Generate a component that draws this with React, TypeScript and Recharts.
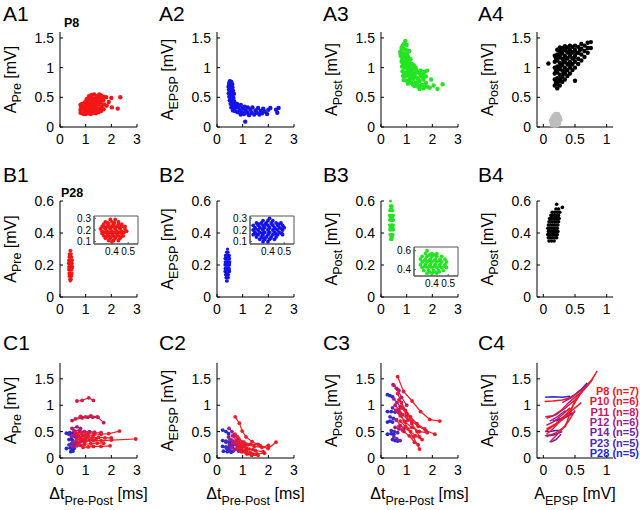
import React from "react";
import { ScatterChart, Scatter, XAxis, YAxis, ReferenceArea } from "recharts";

const FONT = '"Liberation Sans", Arial, Helvetica, sans-serif';

type Pt = [number, number];
type Trace = { g: number; pts: Pt[] };

const RED = "#f21616";
const BLUE = "#1414ea";
const GREEN = "#24e424";
const BLACK = "#000000";
const GREY = "#bdbdbd";

// ages pooled in row C
const ageLabels = ["P8", "P10", "P11", "P12", "P14", "P23", "P28"];
const ageCounts = [7, 6, 8, 6, 5, 5, 5];
const ageColors = ["#f01a22", "#dc1a40", "#c01a66", "#9c1e8c", "#7422a8", "#4c26c2", "#2428d8"];

// ticks
const dtTicks = [0, 1, 2, 3];
const epspTicks = [0, 0.5, 1];
const ampTicks = [0, 0.5, 1, 1.5];
const ampTicksB = [0, 0.2, 0.4, 0.6];
const insetXTicks = [0.4, 0.5];
const insetYTicks = [0.1, 0.2, 0.3];
const insetYTicksPost = [0.4, 0.6];

// ---- row A (P8): dt vs amplitude
const a1Pre: Pt[] = [
  [0.8, 0.24], [0.8, 0.29], [0.82, 0.34], [0.8, 0.37], [0.87, 0.23], [0.88, 0.31], [0.86, 0.39],
  [0.93, 0.22], [0.95, 0.27], [0.92, 0.34], [0.96, 0.41], [1.0, 0.22], [1.02, 0.28], [1.0, 0.33],
  [1.03, 0.38], [1.0, 0.43], [1.04, 0.47], [1.1, 0.23], [1.12, 0.29], [1.08, 0.35], [1.11, 0.41],
  [1.1, 0.47], [1.13, 0.52], [1.2, 0.22], [1.18, 0.26], [1.21, 0.31], [1.19, 0.37], [1.22, 0.43],
  [1.2, 0.49], [1.23, 0.54], [1.3, 0.24], [1.32, 0.3], [1.29, 0.36], [1.31, 0.42], [1.3, 0.48],
  [1.33, 0.55], [1.4, 0.23], [1.42, 0.28], [1.39, 0.34], [1.41, 0.4], [1.4, 0.46], [1.43, 0.52],
  [1.5, 0.25], [1.52, 0.31], [1.49, 0.38], [1.51, 0.44], [1.5, 0.5], [1.53, 0.55], [1.6, 0.27],
  [1.62, 0.34], [1.59, 0.41], [1.61, 0.47], [1.6, 0.53], [1.7, 0.3], [1.72, 0.38], [1.69, 0.45],
  [1.7, 0.51], [1.82, 0.36], [1.8, 0.5], [1.9, 0.42], [2.0, 0.49], [2.02, 0.33], [2.25, 0.31], [2.35, 0.5],
];

const a2Epsp: Pt[] = [
  [0.5, 0.77], [0.56, 0.76], [0.47, 0.73], [0.59, 0.72], [0.45, 0.68], [0.52, 0.69], [0.6, 0.67],
  [0.47, 0.63], [0.55, 0.62], [0.62, 0.61], [0.46, 0.57], [0.52, 0.57], [0.6, 0.55], [0.66, 0.56],
  [0.48, 0.51], [0.56, 0.5], [0.64, 0.49], [0.5, 0.45], [0.58, 0.44], [0.67, 0.43], [0.53, 0.39],
  [0.61, 0.38], [0.7, 0.37], [0.78, 0.39], [0.56, 0.33], [0.65, 0.32], [0.74, 0.33], [0.62, 0.28],
  [0.7, 0.27], [0.84, 0.34], [0.88, 0.29], [0.93, 0.37], [0.97, 0.25], [1.0, 0.31], [1.05, 0.22],
  [1.08, 0.34], [1.12, 0.28], [1.18, 0.24], [1.2, 0.33], [1.25, 0.2], [1.3, 0.29], [1.35, 0.24],
  [1.38, 0.33], [1.45, 0.21], [1.5, 0.28], [1.55, 0.24], [1.6, 0.32], [1.65, 0.21], [1.7, 0.27],
  [1.76, 0.23], [1.8, 0.31], [1.86, 0.26], [1.95, 0.22], [2.0, 0.29], [2.08, 0.32], [2.3, 0.29],
  [2.4, 0.32], [2.35, 0.24], [1.1, 0.09], [0.8, 0.25], [0.92, 0.21],
];

const a3Post: Pt[] = [
  [0.95, 1.45], [0.9, 1.4], [1.0, 1.38], [0.8, 1.33], [0.88, 1.32], [0.97, 1.3], [0.75, 1.27],
  [0.85, 1.25], [0.93, 1.22], [1.02, 1.24], [1.1, 1.28], [0.78, 1.19], [0.88, 1.17], [0.98, 1.15],
  [1.06, 1.18], [1.0, 1.2], [0.8, 1.1], [0.9, 1.09], [1.0, 1.07], [1.1, 1.1], [0.82, 1.02],
  [0.92, 1.0], [1.02, 0.99], [1.12, 1.03], [1.2, 1.06], [0.84, 0.94], [0.95, 0.92], [1.05, 0.93],
  [1.15, 0.95], [1.25, 0.98], [1.35, 1.0], [0.86, 0.86], [0.97, 0.85], [1.08, 0.87], [1.2, 0.88],
  [1.32, 0.9], [1.45, 0.92], [1.55, 0.95], [1.7, 0.93], [1.8, 0.95], [0.88, 0.79], [1.0, 0.78],
  [1.12, 0.8], [1.25, 0.81], [1.4, 0.83], [1.55, 0.86], [1.65, 0.9], [1.75, 0.85], [1.05, 0.73],
  [1.2, 0.74], [1.35, 0.75], [1.5, 0.77], [1.65, 0.8], [1.3, 0.69], [1.45, 0.68], [1.6, 0.71],
  [1.75, 0.74], [1.5, 0.64], [1.65, 0.65], [1.8, 0.68], [1.95, 0.8], [1.9, 0.66], [2.05, 0.7],
  [2.2, 0.64], [2.4, 0.72], [0.84, 1.37], [0.76, 1.22], [0.83, 1.14], [0.93, 1.13], [1.04, 1.12],
  [1.15, 1.14], [0.87, 1.05], [0.97, 1.03], [1.07, 1.04], [1.17, 1.0], [1.28, 1.04], [0.9, 0.9],
  [1.0, 0.89], [1.1, 0.91], [1.22, 0.93], [1.38, 0.95], [1.5, 0.9], [1.62, 0.84], [1.15, 0.84],
  [1.3, 0.86], [1.45, 0.8], [1.1, 0.76], [1.25, 0.71], [1.4, 0.72], [1.55, 0.7], [1.7, 0.68],
];

// A4: A_EPSP vs A_Post, black = responses, grey = failures
const a4Post: Pt[] = [
  [0.18, 0.7], [0.18, 0.8], [0.18, 0.9], [0.18, 1.0], [0.18, 1.1], [0.18, 1.2],
  [0.22, 0.65], [0.22, 0.72], [0.22, 0.82], [0.22, 0.92], [0.22, 1.02], [0.22, 1.12], [0.22, 1.22], [0.22, 1.3],
  [0.26, 0.7], [0.26, 0.78], [0.26, 0.88], [0.26, 0.98], [0.26, 1.08], [0.26, 1.18], [0.26, 1.28], [0.26, 1.34],
  [0.3, 0.76], [0.3, 0.85], [0.3, 0.95], [0.3, 1.05], [0.3, 1.15], [0.3, 1.25], [0.3, 1.33],
  [0.34, 0.8], [0.34, 0.9], [0.34, 1.0], [0.34, 1.1], [0.34, 1.2], [0.34, 1.3], [0.34, 1.36],
  [0.38, 0.86], [0.38, 0.96], [0.38, 1.06], [0.38, 1.16], [0.38, 1.26], [0.38, 1.34],
  [0.42, 0.9], [0.42, 1.0], [0.42, 1.1], [0.42, 1.2], [0.42, 1.3], [0.42, 1.37],
  [0.46, 0.96], [0.46, 1.06], [0.46, 1.16], [0.46, 1.26], [0.46, 1.35],
  [0.5, 1.0], [0.5, 1.1], [0.5, 1.2], [0.5, 1.3], [0.5, 1.37],
  [0.55, 1.06], [0.55, 1.15], [0.55, 1.25], [0.55, 1.35],
  [0.6, 1.12], [0.6, 1.22], [0.6, 1.32], [0.6, 1.4],
  [0.65, 1.18], [0.65, 1.28], [0.65, 1.37], [0.7, 1.25], [0.7, 1.33], [0.7, 1.42],
  [0.75, 1.33], [0.75, 1.43], [0.08, 1.07], [0.5, 0.78],
  [0.2, 0.75], [0.2, 0.95], [0.2, 1.15], [0.24, 0.77], [0.24, 0.97], [0.24, 1.17], [0.28, 0.83],
  [0.28, 1.03], [0.28, 1.23], [0.32, 0.9], [0.32, 1.1], [0.32, 1.3], [0.36, 0.95], [0.36, 1.15],
  [0.4, 1.05], [0.4, 1.25], [0.44, 1.05], [0.44, 1.25], [0.48, 1.15], [0.52, 1.25], [0.58, 1.3],
];

const a4Fail: Pt[] = [
  [0.14, 0.03], [0.18, 0.02], [0.22, 0.03], [0.13, 0.07], [0.17, 0.06], [0.21, 0.07], [0.25, 0.06],
  [0.12, 0.11], [0.16, 0.1], [0.2, 0.11], [0.24, 0.1], [0.27, 0.12], [0.14, 0.15], [0.18, 0.14],
  [0.22, 0.15], [0.26, 0.16], [0.16, 0.19], [0.2, 0.18], [0.24, 0.2], [0.19, 0.22], [0.23, 0.22],
];

// ---- row B (P28)
const b1Pre: Pt[] = [
  [0.39, 0.29], [0.42, 0.29], [0.36, 0.27], [0.4, 0.27], [0.44, 0.27], [0.35, 0.25], [0.38, 0.25],
  [0.41, 0.25], [0.44, 0.25], [0.46, 0.25], [0.34, 0.23], [0.37, 0.23], [0.4, 0.23], [0.43, 0.23],
  [0.46, 0.23], [0.48, 0.23], [0.33, 0.21], [0.36, 0.21], [0.39, 0.21], [0.42, 0.21], [0.45, 0.21],
  [0.48, 0.21], [0.34, 0.19], [0.37, 0.19], [0.4, 0.19], [0.43, 0.19], [0.46, 0.19], [0.49, 0.19],
  [0.34, 0.17], [0.37, 0.17], [0.4, 0.17], [0.43, 0.17], [0.46, 0.17], [0.35, 0.15], [0.38, 0.15],
  [0.41, 0.15], [0.44, 0.15], [0.47, 0.15], [0.36, 0.13], [0.39, 0.13], [0.42, 0.13], [0.45, 0.13],
  [0.38, 0.11], [0.41, 0.11], [0.44, 0.11], [0.4, 0.1],
  [0.375, 0.26], [0.415, 0.26], [0.355, 0.22], [0.385, 0.22], [0.415, 0.22], [0.445, 0.22],
  [0.355, 0.18], [0.385, 0.18], [0.415, 0.18], [0.445, 0.18], [0.475, 0.18], [0.365, 0.14],
  [0.395, 0.14], [0.425, 0.14], [0.455, 0.14],
];

const b2Epsp: Pt[] = [
  [0.41, 0.3], [0.37, 0.28], [0.4, 0.28], [0.43, 0.28], [0.33, 0.26], [0.36, 0.26], [0.39, 0.26],
  [0.42, 0.26], [0.45, 0.26], [0.48, 0.26], [0.31, 0.24], [0.34, 0.24], [0.37, 0.24], [0.4, 0.24],
  [0.43, 0.24], [0.46, 0.24], [0.49, 0.24], [0.32, 0.22], [0.35, 0.22], [0.38, 0.22], [0.41, 0.22],
  [0.44, 0.22], [0.47, 0.22], [0.5, 0.22], [0.31, 0.2], [0.34, 0.2], [0.37, 0.2], [0.4, 0.2],
  [0.43, 0.2], [0.46, 0.2], [0.49, 0.2], [0.32, 0.18], [0.35, 0.18], [0.38, 0.18], [0.41, 0.18],
  [0.44, 0.18], [0.47, 0.18], [0.31, 0.16], [0.34, 0.16], [0.37, 0.16], [0.4, 0.16], [0.43, 0.16],
  [0.46, 0.16], [0.49, 0.16], [0.33, 0.14], [0.36, 0.14], [0.39, 0.14], [0.42, 0.14], [0.45, 0.14],
  [0.35, 0.12], [0.38, 0.12], [0.41, 0.12], [0.44, 0.12], [0.37, 0.1], [0.4, 0.1],
  [0.345, 0.25], [0.385, 0.25], [0.425, 0.25], [0.465, 0.25], [0.325, 0.21], [0.365, 0.21],
  [0.405, 0.21], [0.445, 0.21], [0.485, 0.21], [0.325, 0.17], [0.365, 0.17], [0.405, 0.17],
  [0.445, 0.17], [0.485, 0.17], [0.375, 0.13], [0.415, 0.13],
];

const b3Post: Pt[] = [
  [0.37, 0.6], [0.36, 0.57], [0.4, 0.57], [0.43, 0.57], [0.34, 0.54], [0.37, 0.54], [0.4, 0.54],
  [0.43, 0.54], [0.46, 0.54], [0.33, 0.51], [0.36, 0.51], [0.39, 0.51], [0.42, 0.51], [0.45, 0.51],
  [0.48, 0.51], [0.34, 0.48], [0.37, 0.48], [0.4, 0.48], [0.43, 0.48], [0.46, 0.48], [0.49, 0.48],
  [0.33, 0.45], [0.36, 0.45], [0.39, 0.45], [0.42, 0.45], [0.45, 0.45], [0.48, 0.45], [0.34, 0.42],
  [0.37, 0.42], [0.4, 0.42], [0.43, 0.42], [0.46, 0.42], [0.49, 0.42], [0.35, 0.39], [0.38, 0.39],
  [0.41, 0.39], [0.44, 0.39], [0.47, 0.39], [0.37, 0.36], [0.4, 0.36], [0.43, 0.36],
  [0.385, 0.555], [0.415, 0.555], [0.355, 0.495], [0.385, 0.495], [0.415, 0.495], [0.445, 0.495],
  [0.355, 0.435], [0.385, 0.435], [0.415, 0.435], [0.445, 0.435], [0.475, 0.435], [0.385, 0.375],
  [0.415, 0.375], [0.445, 0.375],
];

const b4Post: Pt[] = [
  [0.09, 0.35], [0.13, 0.35], [0.17, 0.35], [0.08, 0.37], [0.11, 0.37], [0.14, 0.37], [0.18, 0.37],
  [0.21, 0.37], [0.07, 0.39], [0.1, 0.39], [0.13, 0.39], [0.16, 0.39], [0.19, 0.39], [0.22, 0.39],
  [0.08, 0.41], [0.11, 0.41], [0.14, 0.41], [0.17, 0.41], [0.2, 0.41], [0.23, 0.41], [0.07, 0.43],
  [0.1, 0.43], [0.13, 0.43], [0.16, 0.43], [0.19, 0.43], [0.22, 0.43], [0.08, 0.45], [0.11, 0.45],
  [0.14, 0.45], [0.17, 0.45], [0.2, 0.45], [0.23, 0.45], [0.09, 0.47], [0.12, 0.47], [0.15, 0.47],
  [0.18, 0.47], [0.21, 0.47], [0.24, 0.47], [0.1, 0.49], [0.13, 0.49], [0.16, 0.49], [0.19, 0.49],
  [0.22, 0.49], [0.25, 0.49], [0.12, 0.51], [0.15, 0.51], [0.18, 0.51], [0.21, 0.51], [0.24, 0.51],
  [0.14, 0.53], [0.18, 0.53], [0.22, 0.53], [0.26, 0.53], [0.2, 0.55], [0.24, 0.55], [0.21, 0.58], [0.3, 0.56],
];

// ---- row C: one trace per cell, g = index into ageLabels
const c1Pre: Trace[] = [
  { g: 1, pts: [[0.66, 1.08], [0.86, 1.09], [1.12, 1.14], [1.3, 1.09]] },
  { g: 2, pts: [[0.47, 0.71], [0.86, 0.76], [1.09, 0.77], [1.28, 0.77], [1.48, 0.77], [1.7, 0.67]] },
  { g: 1, pts: [[0.6, 0.74], [0.8, 0.79], [1.0, 0.78], [1.2, 0.8], [1.45, 0.78]] },
  { g: 0, pts: [[0.7, 0.45], [1.0, 0.44], [1.3, 0.43], [1.6, 0.45], [1.9, 0.46], [2.32, 0.51]] },
  { g: 0, pts: [[0.75, 0.3], [1.0, 0.32], [1.3, 0.33], [1.6, 0.33], [2.0, 0.34], [2.95, 0.36]] },
  { g: 0, pts: [[0.8, 0.38], [1.0, 0.37], [1.25, 0.38], [1.5, 0.39], [1.75, 0.38], [2.0, 0.38]] },
  { g: 0, pts: [[0.7, 0.25], [0.95, 0.26], [1.2, 0.27], [1.45, 0.28], [1.7, 0.28]] },
  { g: 0, pts: [[0.9, 0.2], [1.1, 0.21], [1.3, 0.22], [1.6, 0.22], [1.95, 0.23]] },
  { g: 1, pts: [[0.6, 0.48], [0.85, 0.48], [1.1, 0.47], [1.35, 0.47], [1.6, 0.48]] },
  { g: 1, pts: [[0.65, 0.35], [0.9, 0.35], [1.15, 0.34], [1.4, 0.35]] },
  { g: 2, pts: [[0.55, 0.52], [0.75, 0.52], [0.95, 0.5], [1.15, 0.5], [1.35, 0.49]] },
  { g: 2, pts: [[0.5, 0.42], [0.7, 0.41], [0.9, 0.42], [1.1, 0.41]] },
  { g: 3, pts: [[0.47, 0.56], [0.66, 0.59], [0.8, 0.56]] },
  { g: 3, pts: [[0.5, 0.3], [0.65, 0.3], [0.8, 0.31], [0.95, 0.3]] },
  { g: 3, pts: [[0.5, 0.22], [0.65, 0.23], [0.8, 0.24]] },
  { g: 4, pts: [[0.45, 0.4], [0.6, 0.4], [0.75, 0.4]] },
  { g: 4, pts: [[0.45, 0.27], [0.6, 0.28], [0.7, 0.28]] },
  { g: 5, pts: [[0.35, 0.45], [0.48, 0.44], [0.58, 0.44]] },
  { g: 5, pts: [[0.35, 0.25], [0.5, 0.26], [0.6, 0.26]] },
  { g: 6, pts: [[0.25, 0.47], [0.38, 0.48], [0.5, 0.47]] },
  { g: 6, pts: [[0.25, 0.18], [0.4, 0.19], [0.55, 0.18]] },
  { g: 6, pts: [[0.35, 0.35], [0.45, 0.36], [0.5, 0.33]] },
  { g: 6, pts: [[0.42, 0.12], [0.47, 0.15], [0.5, 0.13]] },
];

const c2Epsp: Trace[] = [
  { g: 0, pts: [[0.71, 0.78], [0.87, 0.66], [0.98, 0.51], [1.13, 0.4], [1.37, 0.31], [1.69, 0.23], [1.99, 0.18], [2.3, 0.3]] },
  { g: 0, pts: [[0.8, 0.4], [1.0, 0.3], [1.2, 0.25], [1.45, 0.22], [1.75, 0.2], [2.0, 0.24]] },
  { g: 0, pts: [[0.85, 0.3], [1.05, 0.22], [1.25, 0.17], [1.5, 0.14], [1.8, 0.12]] },
  { g: 0, pts: [[0.9, 0.2], [1.1, 0.14], [1.3, 0.1], [1.55, 0.08], [1.85, 0.09]] },
  { g: 0, pts: [[0.95, 0.12], [1.15, 0.08], [1.35, 0.05], [1.6, 0.05]] },
  { g: 1, pts: [[0.7, 0.45], [0.85, 0.36], [1.05, 0.3], [1.3, 0.26], [1.6, 0.26]] },
  { g: 1, pts: [[0.75, 0.3], [0.95, 0.22], [1.15, 0.18], [1.4, 0.16]] },
  { g: 1, pts: [[0.8, 0.18], [1.0, 0.12], [1.2, 0.08], [1.4, 0.07]] },
  { g: 2, pts: [[0.6, 0.42], [0.75, 0.34], [0.9, 0.28], [1.1, 0.24]] },
  { g: 2, pts: [[0.65, 0.28], [0.8, 0.22], [0.95, 0.18], [1.15, 0.15]] },
  { g: 3, pts: [[0.47, 0.56], [0.58, 0.5], [0.7, 0.42]] },
  { g: 3, pts: [[0.5, 0.35], [0.62, 0.3], [0.75, 0.25], [0.9, 0.22]] },
  { g: 3, pts: [[0.55, 0.2], [0.7, 0.16], [0.85, 0.13]] },
  { g: 4, pts: [[0.45, 0.4], [0.58, 0.34], [0.7, 0.3]] },
  { g: 4, pts: [[0.48, 0.25], [0.6, 0.2], [0.72, 0.17]] },
  { g: 5, pts: [[0.35, 0.3], [0.5, 0.27], [0.62, 0.24]] },
  { g: 5, pts: [[0.38, 0.18], [0.5, 0.15], [0.62, 0.13]] },
  { g: 6, pts: [[0.22, 0.53], [0.35, 0.5], [0.45, 0.46]] },
  { g: 6, pts: [[0.22, 0.33], [0.35, 0.32], [0.5, 0.3]] },
  { g: 6, pts: [[0.22, 0.22], [0.35, 0.21], [0.5, 0.2]] },
  { g: 6, pts: [[0.25, 0.13], [0.4, 0.12], [0.55, 0.11]] },
];

const c3Post: Trace[] = [
  { g: 0, pts: [[0.65, 1.54], [0.88, 1.26], [1.21, 1.08], [1.54, 0.88], [1.9, 0.73], [2.29, 0.7]] },
  { g: 0, pts: [[0.7, 1.1], [0.85, 0.95], [1.0, 0.8], [1.2, 0.65], [1.4, 0.5], [1.5, 0.4]] },
  { g: 0, pts: [[0.75, 0.85], [0.9, 0.7], [1.05, 0.55], [1.25, 0.4], [1.5, 0.17]] },
  { g: 0, pts: [[0.8, 0.95], [1.0, 0.85], [1.2, 0.7], [1.45, 0.6], [1.75, 0.52], [2.1, 0.45]] },
  { g: 0, pts: [[0.75, 0.7], [0.95, 0.6], [1.15, 0.5], [1.35, 0.42], [1.6, 0.35]] },
  { g: 1, pts: [[0.65, 1.22], [0.8, 1.05], [0.95, 0.9], [1.15, 0.78], [1.4, 0.65], [1.7, 0.55]] },
  { g: 1, pts: [[0.6, 0.9], [0.75, 0.8], [0.95, 0.68], [1.2, 0.58], [1.5, 0.5], [1.8, 0.48]] },
  { g: 1, pts: [[0.7, 0.6], [0.9, 0.5], [1.1, 0.42], [1.3, 0.3], [1.45, 0.25]] },
  { g: 2, pts: [[0.5, 1.38], [0.65, 1.3], [0.8, 1.15], [1.0, 1.0]] },
  { g: 2, pts: [[0.55, 1.0], [0.7, 0.92], [0.85, 0.82], [1.05, 0.72]] },
  { g: 2, pts: [[0.6, 0.72], [0.75, 0.62], [0.9, 0.56]] },
  { g: 3, pts: [[0.47, 1.39], [0.6, 1.32], [0.7, 1.28]] },
  { g: 3, pts: [[0.5, 1.12], [0.62, 1.05], [0.75, 0.98]] },
  { g: 3, pts: [[0.55, 0.58], [0.7, 0.55], [0.85, 0.52]] },
  { g: 4, pts: [[0.45, 0.95], [0.58, 0.9], [0.7, 0.86]] },
  { g: 4, pts: [[0.5, 0.4], [0.62, 0.36], [0.75, 0.33]] },
  { g: 5, pts: [[0.35, 0.78], [0.48, 0.75], [0.6, 0.72]] },
  { g: 5, pts: [[0.4, 0.52], [0.52, 0.5], [0.65, 0.48]] },
  { g: 6, pts: [[0.25, 1.2], [0.35, 1.18], [0.45, 1.16]] },
  { g: 6, pts: [[0.25, 0.88], [0.4, 0.88], [0.55, 0.87], [0.7, 0.86]] },
  { g: 6, pts: [[0.25, 0.68], [0.35, 0.7], [0.45, 0.68]] },
  { g: 6, pts: [[0.25, 0.45], [0.4, 0.46], [0.5, 0.45]] },
  { g: 6, pts: [[0.45, 0.35], [0.55, 0.33], [0.65, 0.32]] },
];

const c4Post: Trace[] = [
  { g: 0, pts: [[0.05, 0.45], [0.15, 0.55], [0.3, 0.75], [0.45, 0.95], [0.6, 1.25], [0.75, 1.45], [0.85, 1.65]] },
  { g: 0, pts: [[0.05, 0.4], [0.2, 0.48], [0.35, 0.6], [0.42, 0.85], [0.5, 1.1]] },
  { g: 0, pts: [[0.02, 1.07], [0.15, 1.08], [0.3, 1.1], [0.45, 1.15], [0.55, 1.25]] },
  { g: 0, pts: [[0.05, 0.55], [0.2, 0.65], [0.35, 0.8], [0.5, 0.95], [0.6, 1.05]] },
  { g: 1, pts: [[0.05, 0.75], [0.2, 0.82], [0.35, 0.95], [0.5, 1.1], [0.65, 1.3], [0.75, 1.45]] },
  { g: 1, pts: [[0.03, 0.5], [0.15, 0.6], [0.3, 0.72], [0.45, 0.88]] },
  { g: 1, pts: [[0.1, 0.3], [0.2, 0.42], [0.3, 0.55], [0.4, 0.7], [0.5, 0.9]] },
  { g: 2, pts: [[0.03, 0.78], [0.15, 0.8], [0.28, 0.9], [0.4, 1.05], [0.55, 1.2], [0.7, 1.38], [0.78, 1.5]] },
  { g: 2, pts: [[0.05, 0.62], [0.18, 0.7], [0.3, 0.82], [0.42, 0.95]] },
  { g: 3, pts: [[0.1, 0.7], [0.22, 0.78], [0.35, 0.9]] },
  { g: 3, pts: [[0.3, 1.05], [0.45, 1.15], [0.6, 1.3], [0.75, 1.45]] },
  { g: 4, pts: [[0.15, 0.7], [0.28, 0.75], [0.4, 0.85]] },
  { g: 4, pts: [[0.12, 0.3], [0.2, 0.35], [0.28, 0.45]] },
  { g: 5, pts: [[0.1, 0.42], [0.2, 0.45], [0.3, 0.5]] },
  { g: 5, pts: [[0.3, 0.75], [0.4, 0.8], [0.5, 0.88]] },
  { g: 6, pts: [[0.03, 1.15], [0.15, 1.16], [0.3, 1.15], [0.42, 1.17]] },
  { g: 6, pts: [[0.35, 1.1], [0.5, 1.2], [0.6, 1.3], [0.69, 1.42]] },
  { g: 6, pts: [[0.03, 0.5], [0.1, 0.5], [0.2, 0.52], [0.25, 0.52]] },
  { g: 6, pts: [[0.03, 0.42], [0.12, 0.44], [0.22, 0.45]] },
  { g: 6, pts: [[0.2, 0.7], [0.3, 0.75], [0.4, 0.8], [0.45, 0.85]] },
];

// ---- layout (plot-area boxes in page pixels)
const COL = [60, 217, 381, 537];
const COLW = [77, 77, 77, 76];
const ROW = [32, 201, 363];
const ROWH = [95, 96, 95];

const xy = (pts: Pt[]) => pts.map(([x, y]) => ({ x, y }));
const dot = (color: string, r: number) => (p: any) => <circle cx={p.cx} cy={p.cy} r={r} fill={color} />;
const noDot = () => <g />;

const tickStyle = { fill: "#000", fontSize: 14, fontFamily: FONT };
const insetTick = { fill: "#000", fontSize: 10, fontFamily: FONT };

function Frame({ c, r, xDomain, yDomain, xTicks, yTicks, children }: any) {
  const yw = 60;
  const mt = 10;
  const w = COLW[c];
  const h = ROWH[r];
  return (
    <div style={{ position: "absolute", left: COL[c] - yw, top: ROW[r] - mt }}>
      <ScatterChart width={yw + w + 6} height={mt + h + 28} margin={{ top: mt, right: 6, bottom: 0, left: 0 }}>
        <XAxis type="number" dataKey="x" domain={xDomain} ticks={xTicks} interval={0} height={28}
          tickSize={-3} tickMargin={10} stroke="#000" tick={tickStyle} />
        <YAxis type="number" dataKey="y" domain={yDomain} ticks={yTicks} interval={0} width={yw}
          tickSize={-3} tickMargin={9} stroke="#000" tick={tickStyle} />
        {children}
      </ScatterChart>
    </div>
  );
}

function Inset({ left, top, w, h, xDomain, yDomain, yTicks, pts, color }: any) {
  return (
    <div style={{ position: "absolute", left: left - 30, top: top - 7 }}>
      <ScatterChart width={30 + w + 8} height={7 + h + 18} margin={{ top: 7, right: 8, bottom: 0, left: 0 }}>
        <XAxis type="number" dataKey="x" domain={xDomain} ticks={insetXTicks} interval={0} height={18}
          tickSize={-2} tickMargin={6} stroke="#555" tick={insetTick} />
        <YAxis type="number" dataKey="y" domain={yDomain} ticks={yTicks} interval={0} width={30}
          tickSize={-2} tickMargin={5} stroke="#555" tick={insetTick} />
        <ReferenceArea x1={xDomain[0]} x2={xDomain[1]} y1={yDomain[0]} y2={yDomain[1]}
          fill="none" stroke="#555" strokeWidth={1} fillOpacity={0} />
        <Scatter data={xy(pts)} shape={dot(color, 1.9)} isAnimationActive={false} />
      </ScatterChart>
    </div>
  );
}

const cloud = (pts: Pt[], color: string, r = 2.2) => (
  <Scatter data={xy(pts)} fill={color} shape={dot(color, r)} isAnimationActive={false} />
);

const traces = (list: Trace[], withDots: boolean) =>
  [...list].sort((a, b) => b.g - a.g).map((t, i) => (
    <Scatter key={i} data={xy(t.pts)} fill={ageColors[t.g]}
      line={{ stroke: ageColors[t.g], strokeWidth: withDots ? 1.2 : 1.5 }}
      lineType="joint" shape={withDots ? dot(ageColors[t.g], 1.9) : noDot}
      isAnimationActive={false} />
  ));

// axis titles with subscripts
function YTitle({ c, r, sub }: { c: number; r: number; sub: string }) {
  const x = COL[c] - 44;
  const y = ROW[r] + ROWH[r] / 2;
  return (
    <text transform={`translate(${x},${y}) rotate(-90)`} textAnchor="middle" fontSize={16} fontFamily={FONT}>
      A<tspan fontSize={12.5} dy={5}>{sub}</tspan><tspan dy={-5}> [mV]</tspan>
    </text>
  );
}

function XTitle({ c, main, sub, unit }: { c: number; main: string; sub: string; unit: string }) {
  const x = COL[c] + COLW[c] / 2;
  const y = 499;
  return (
    <text x={x} y={y} textAnchor="middle" fontSize={16} fontFamily={FONT}>
      {main}<tspan fontSize={12.5} dy={6}>{sub}</tspan><tspan dy={-6}>{` [${unit}]`}</tspan>
    </text>
  );
}

const panelNames = [["A1", "A2", "A3", "A4"], ["B1", "B2", "B3", "B4"], ["C1", "C2", "C3", "C4"]];
const ySubs = ["Pre", "EPSP", "Post", "Post"];
const letterX = [3, 159, 323, 478];
const letterY = [21, 182, 350];

export default function App() {
  return (
    <div style={{ position: "absolute", left: 0, top: 0, width: 640, height: 510, background: "#fff", fontFamily: FONT }}>
      {/* row A */}
      <Frame c={0} r={0} xDomain={[0, 3]} yDomain={[0, 1.6]} xTicks={dtTicks} yTicks={ampTicks}>{cloud(a1Pre, RED)}</Frame>
      <Frame c={1} r={0} xDomain={[0, 3]} yDomain={[0, 1.6]} xTicks={dtTicks} yTicks={ampTicks}>{cloud(a2Epsp, BLUE)}</Frame>
      <Frame c={2} r={0} xDomain={[0, 3]} yDomain={[0, 1.6]} xTicks={dtTicks} yTicks={ampTicks}>{cloud(a3Post, GREEN)}</Frame>
      <Frame c={3} r={0} xDomain={[-0.1, 1.1]} yDomain={[0, 1.6]} xTicks={epspTicks} yTicks={ampTicks}>
        {cloud(a4Fail, GREY)}
        {cloud(a4Post, BLACK)}
      </Frame>

      {/* row B */}
      <Frame c={0} r={1} xDomain={[0, 3]} yDomain={[0, 0.6]} xTicks={dtTicks} yTicks={ampTicksB}>{cloud(b1Pre, RED, 1.6)}</Frame>
      <Frame c={1} r={1} xDomain={[0, 3]} yDomain={[0, 0.6]} xTicks={dtTicks} yTicks={ampTicksB}>{cloud(b2Epsp, BLUE, 1.6)}</Frame>
      <Frame c={2} r={1} xDomain={[0, 3]} yDomain={[0, 0.6]} xTicks={dtTicks} yTicks={ampTicksB}>{cloud(b3Post, GREEN, 1.6)}</Frame>
      <Frame c={3} r={1} xDomain={[-0.1, 1.1]} yDomain={[0, 0.6]} xTicks={epspTicks} yTicks={ampTicksB}>{cloud(b4Post, BLACK, 1.8)}</Frame>
      <Inset left={94} top={216} w={44} h={28} xDomain={[0.29, 0.56]} yDomain={[0.08, 0.32]} yTicks={insetYTicks} pts={b1Pre} color={RED} />
      <Inset left={250} top={216} w={44} h={28} xDomain={[0.29, 0.56]} yDomain={[0.08, 0.32]} yTicks={insetYTicks} pts={b2Epsp} color={BLUE} />
      <Inset left={414} top={247} w={44} h={29} xDomain={[0.29, 0.56]} yDomain={[0.33, 0.64]} yTicks={insetYTicksPost} pts={b3Post} color={GREEN} />

      {/* row C */}
      <Frame c={0} r={2} xDomain={[0, 3]} yDomain={[0, 1.8]} xTicks={dtTicks} yTicks={ampTicks}>{traces(c1Pre, true)}</Frame>
      <Frame c={1} r={2} xDomain={[0, 3]} yDomain={[0, 1.8]} xTicks={dtTicks} yTicks={ampTicks}>{traces(c2Epsp, true)}</Frame>
      <Frame c={2} r={2} xDomain={[0, 3]} yDomain={[0, 1.8]} xTicks={dtTicks} yTicks={ampTicks}>{traces(c3Post, true)}</Frame>
      <Frame c={3} r={2} xDomain={[-0.1, 1.1]} yDomain={[0, 1.8]} xTicks={epspTicks} yTicks={ampTicks}>{traces(c4Post, false)}</Frame>

      {/* text layer */}
      <svg width={640} height={510} style={{ position: "absolute", left: 0, top: 0, pointerEvents: "none" }}>
        {panelNames.map((row, r) =>
          row.map((name, c) => (
            <text key={name} x={letterX[c]} y={letterY[r]} fontSize={21} fontFamily={FONT}>{name}</text>
          ))
        )}
        {[0, 1, 2].map((r) => ySubs.map((s, c) => <YTitle key={`${r}-${c}`} c={c} r={r} sub={s} />))}
        {[0, 1, 2].map((c) => <XTitle key={c} c={c} main="Δt" sub="Pre-Post" unit="ms" />)}
        <XTitle c={3} main="A" sub="EPSP" unit="mV" />
        <text x={64} y={27} fontSize={12.5} fontWeight="bold" fontFamily={FONT}>P8</text>
        <text x={61} y={197} fontSize={12.5} fontWeight="bold" fontFamily={FONT}>P28</text>
        {ageLabels.map((a, i) => (
          <text key={a} x={639} y={395 + i * 10.3} textAnchor="end" fontSize={11} fontWeight="bold"
            fontFamily={FONT} fill={ageColors[i]}>{`${a} (n=${ageCounts[i]})`}</text>
        ))}
      </svg>
    </div>
  );
}
